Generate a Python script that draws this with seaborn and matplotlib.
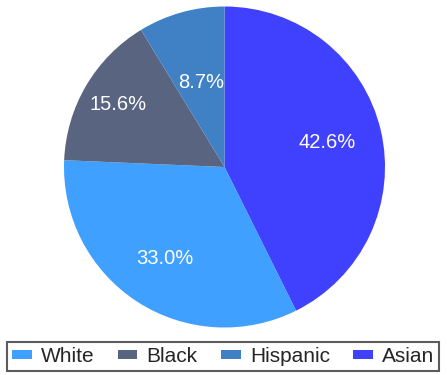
import matplotlib
matplotlib.use("Agg")
import matplotlib.pyplot as plt
import seaborn as sns
import numpy as np
from matplotlib.patches import Patch

sns.set_theme(style="white")
plt.rcParams['font.family'] = ['Liberation Sans', 'DejaVu Sans']

# data (drawing order: clockwise from top)
categories = ["Asian", "White", "Black", "Hispanic"]
values = [42.6, 33.0, 15.6, 8.7]
legend_order = ["White", "Black", "Hispanic", "Asian"]
colors = {"White": "#40a0ff", "Black": "#586480", "Hispanic": "#4080c4", "Asian": "#4040ff"}
label_radii = [0.66, 0.68, 0.77, 0.55]

fig = plt.figure(figsize=(4.47, 3.75), dpi=100)
r = 160.5
cx, cy = 224.5, 375 - 167
ax = fig.add_axes([(cx - r) / 447, (cy - r) / 375, 2 * r / 447, 2 * r / 375])

wedges, texts, autotexts = ax.pie(
    values, colors=[colors[c] for c in categories], startangle=90,
    counterclock=False, autopct="%.1f%%", pctdistance=0.66,
    textprops=dict(color="white", fontsize=14.5),
    wedgeprops=dict(linewidth=0))

for w, t, rad in zip(wedges, autotexts, label_radii):
    ang = np.deg2rad((w.theta1 + w.theta2) / 2)
    t.set_position((rad * np.cos(ang), rad * np.sin(ang)))

ax.set_xlim(-1, 1)
ax.set_ylim(-1, 1)
ax.set_aspect("equal")
ax.axis("off")

handles = [Patch(facecolor=colors[c], edgecolor="none") for c in legend_order]
leg = fig.legend(handles, legend_order, loc="center", ncol=4,
                 bbox_to_anchor=(223 / 447, 1 - 356.5 / 375),
                 fontsize=15, frameon=True, fancybox=False,
                 edgecolor="#333333", handlelength=0.95, handleheight=0.35,
                 handletextpad=0.45, columnspacing=1.1, borderpad=0.25,
                 borderaxespad=0)
leg.get_frame().set_linewidth(1.5)

fig.savefig("out.png", dpi=100)
